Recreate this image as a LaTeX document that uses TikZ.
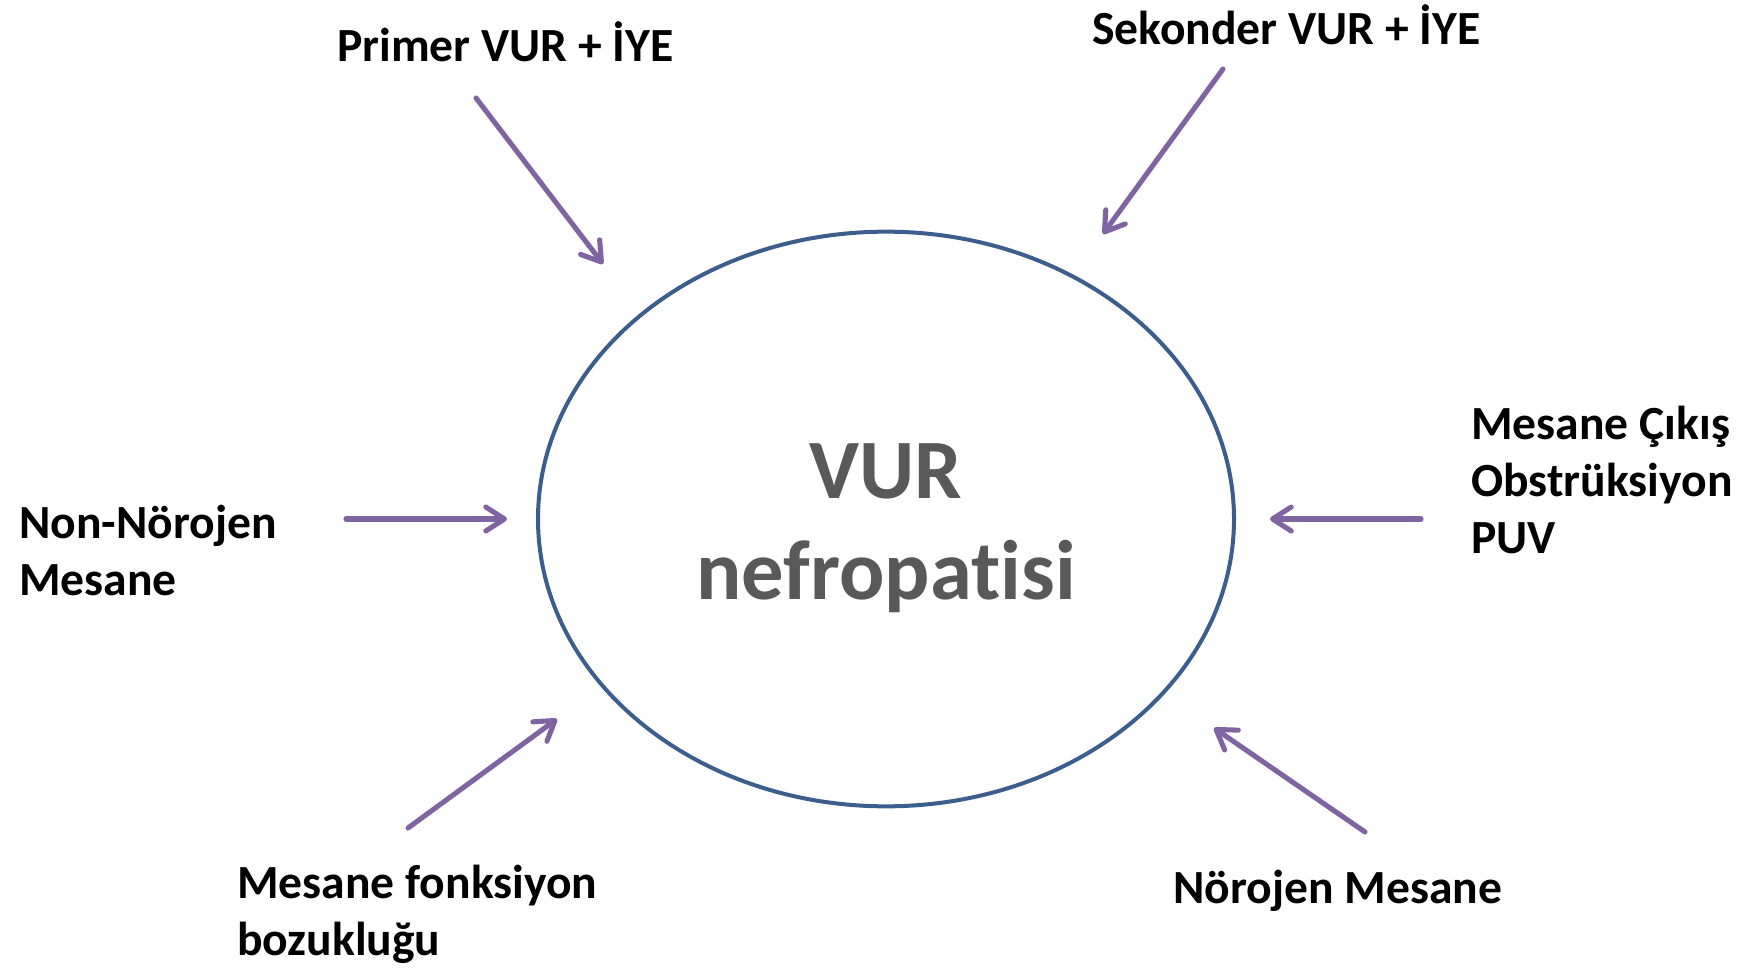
\documentclass[tikz,border=0pt]{standalone}
\usepackage{fontspec}
\setmainfont{Carlito}[Ligatures=NoCommon]
\usetikzlibrary{shapes.geometric,arrows.meta}
\definecolor{arrowpurple}{HTML}{8064A2}
\definecolor{ellblue}{HTML}{3B5E8C}
\definecolor{centergray}{HTML}{595959}
\begin{document}
\begin{tikzpicture}[x=0.75pt,y=-0.75pt,
  lbl/.style={font=\fontsize{35.7}{42.75}\selectfont\bfseries, inner sep=0pt, anchor=base west, align=left},
  ctr/.style={font=\fontsize{63.4}{75.75}\selectfont\bfseries, text=centergray, inner sep=0pt, anchor=base, align=center},
  arr/.style={draw=arrowpurple, line width=3.8pt, line cap=round, -{Straight Barb[length=14pt,width=18pt,round]}},
  ellipsebox/.style={ellipse, draw=ellblue, line width=3pt, minimum width=522pt, minimum height=431pt, inner sep=0pt}
]
\useasboundingbox (0,0) rectangle (1747,969);
\fill[white] (0,0) rectangle (1747,969);
\node[ellipsebox] (E) at (886,519) {};
\node[ctr] (C) at (886,599) {VUR\\nefropatisi};

\node[lbl] (L1) at (337,62) {Primer VUR + İYE};
\node[lbl] (L2) at (1092,45) {Sekonder VUR + İYE};
\node[lbl] (L3) at (19,595) {Non-Nörojen\\Mesane};
\node[lbl] (L4) at (1471,553) {Mesane Çıkış\\Obstrüksiyon\\PUV};
\node[lbl] (L5) at (237,955) {Mesane fonksiyon\\bozukluğu};
\node[lbl] (L6) at (1173,903) {Nörojen Mesane};

\coordinate (s1) at (476,98);   \coordinate (t1) at (603,264);
\coordinate (s2) at (1223,69);  \coordinate (t2) at (1103,234);
\coordinate (s3) at (346,519);  \coordinate (t3) at (507,519);
\coordinate (s4) at (1421,519); \coordinate (t4) at (1270,519);
\coordinate (s5) at (408,828);  \coordinate (t5) at (557,719);
\coordinate (s6) at (1365,832); \coordinate (t6) at (1214,728);

\draw[arr] (s1) -- (t1);
\draw[arr] (s2) -- (t2);
\draw[arr] (s3) -- (t3);
\draw[arr] (s4) -- (t4);
\draw[arr] (s5) -- (t5);
\draw[arr] (s6) -- (t6);
\end{tikzpicture}
\end{document}
